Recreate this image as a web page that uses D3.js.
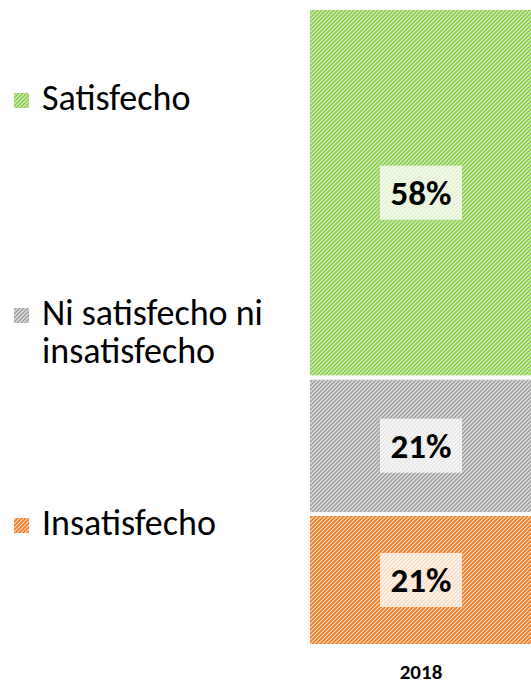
<!DOCTYPE html>
<html>
<head>
<meta charset="utf-8">
<script src="https://cdn.jsdelivr.net/npm/d3@7"></script>
<style>
  html, body { margin: 0; padding: 0; background: #ffffff; }
  svg { display: block; }
</style>
</head>
<body>
<svg id="chart" width="531" height="686"></svg>
<script>
// ---- data ----
const years = ["2018"];
const categories = ["Insatisfecho", "Ni satisfecho ni insatisfecho", "Satisfecho"]; // bottom to top
const values = [20.7, 21.4, 57.9];
const legendLines = [["Insatisfecho"], ["Ni satisfecho ni", "insatisfecho"], ["Satisfecho"]];
const stripeColors = ["#ef7b22", "#a2a2a2", "#8ccf4a"];
const bgColors = ["#fce3d0", "#ececec", "#e2f0d8"];

// ---- layout ----
const font = "Calibri, Carlito, Lato, 'Open Sans', sans-serif";
const svg = d3.select("#chart");

const x = d3.scaleBand().domain(years).range([308, 534]).padding(0);
const y = d3.scaleLinear().domain([0, 100]).range([646, 8]);

// patterns
const defs = svg.append("defs");
categories.forEach((c, i) => {
  const p = defs.append("pattern")
    .attr("id", "pat" + i)
    .attr("patternUnits", "userSpaceOnUse")
    .attr("width", 4).attr("height", 4);
  p.append("rect").attr("width", 4).attr("height", 4).attr("fill", bgColors[i]);
  p.append("path")
    .attr("d", "M-1,1 L1,-1 M0,4 L4,0 M3,5 L5,3")
    .attr("stroke", stripeColors[i])
    .attr("stroke-width", 1.8)
    .attr("stroke-linecap", "square");
});

// stacked data
const stackData = [{ year: years[0] }];
categories.forEach((c, i) => stackData[0][c] = values[i]);
const series = d3.stack().keys(categories)(stackData);

const g = svg.append("g");
series.forEach((s, i) => {
  s.forEach(d => {
    g.append("rect")
      .attr("x", x(d.data.year))
      .attr("width", x.bandwidth())
      .attr("y", y(d[1]))
      .attr("height", y(d[0]) - y(d[1]))
      .attr("fill", `url(#pat${i})`)
      .attr("stroke", "#ffffff")
      .attr("stroke-width", 4);
    const cx = 421;
    const cy = (y(d[0]) + y(d[1])) / 2;
    g.append("rect")
      .attr("x", cx - 41).attr("y", cy - 27)
      .attr("width", 82).attr("height", 54)
      .attr("fill", "#ffffff").attr("fill-opacity", 0.75);
    g.append("text")
      .attr("x", cx).attr("y", cy)
      .attr("text-anchor", "middle")
      .attr("dominant-baseline", "central")
      .attr("font-family", font)
      .attr("font-weight", "bold")
      .attr("font-size", 35)
      .attr("fill", "#000000")
      .text(d3.format(".0f")(d[1] - d[0]) + "%");
  });
});

// x axis
const ax = svg.append("g")
  .attr("transform", `translate(0, 679)`)
  .call(d3.axisBottom(x).tickSize(0).tickPadding(0));
ax.select(".domain").remove();
ax.selectAll("text")
  .attr("font-family", font)
  .attr("font-weight", "bold")
  .attr("font-size", 21)
  .attr("fill", "#000000")
  .attr("y", 0)
  .attr("dy", 0);

// legend
const legendBaselines = [535, 325, 110];
const legend = svg.append("g");
categories.forEach((c, i) => {
  const b = legendBaselines[i];
  legend.append("rect")
    .attr("x", 14).attr("y", b - 17)
    .attr("width", 15).attr("height", 15)
    .attr("fill", `url(#pat${i})`);
  const t = legend.append("text")
    .attr("x", 42).attr("y", b)
    .attr("font-family", font)
    .attr("font-size", 36)
    .attr("fill", "#000000");
  legendLines[i].forEach((ln, k) => {
    t.append("tspan").attr("x", 42).attr("dy", k === 0 ? 0 : 38).text(ln);
  });
});
</script>
</body>
</html>
